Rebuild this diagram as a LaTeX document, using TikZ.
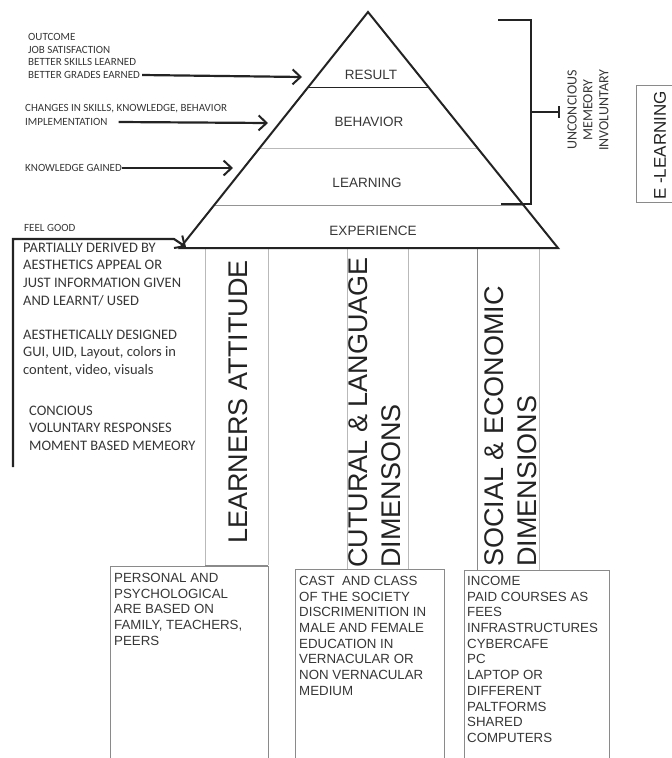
\documentclass[tikz,border=0pt]{standalone}
\usepackage{fontspec}
\setmainfont{Liberation Sans}
\newfontfamily\notefont{Carlito}
\usetikzlibrary{arrows.meta,calc}
\newdimen\pxsize
\setlength{\pxsize}{1pt}
\definecolor{inkdark}{HTML}{232323}
\definecolor{textgray}{HTML}{363636}
\definecolor{rulegray}{HTML}{B9B9B9}
\definecolor{boxgray}{HTML}{8A8A8A}
\tikzset{
  levelname/.style={inner sep=0pt,text=textgray,font=\fontsize{13.5}{16}\selectfont},
  feedtext/.style={anchor=west,inner sep=0pt,align=left,text=textgray,font=\notefont\fontsize{11}{12.4}\selectfont},
  feedarrow/.style={draw=inkdark,line width=2.2pt,-{Straight Barb[length=8pt,width=15pt,line width=2pt]}},
  boxnote/.style={anchor=north west,inner sep=0pt,align=left,text=textgray,font=\notefont\fontsize{14.5}{17.7}\selectfont},
  pillartext/.style={rotate=90,inner sep=0pt,text=inkdark,font=\fontsize{27}{33}\selectfont},
  factortext/.style={anchor=north west,inner sep=0pt,align=left,text=textgray,font=\fontsize{13.3}{15.7}\selectfont},
}

\begin{document}
\begin{tikzpicture}[x=\pxsize,y=-\pxsize]
\useasboundingbox (0,0) rectangle (672,758);
\clip (0,0) rectangle (672,758);
\coordinate (apex) at (368,12);
\coordinate (baseL) at (180,248);
\coordinate (baseR) at (558,248);

\foreach \pl/\pr/\pb/\pc in {205/268/565/rulegray,347/408/569/rulegray,477/539/570/boxgray}{
  \draw[rulegray] (\pr,248) -- (\pr,\pb);
  \draw[\pc] (\pl,248) -- (\pl,\pb);
}
\draw[boxgray] (205,565) -- (268,565);
\foreach \bl/\br/\bt in {110/268/566,295/444/569,464/609/570}{
  \draw[boxgray] (\bl,770) -- (\bl,\bt) -- (\br,\bt) -- (\br,770);
}

\foreach \lt/\lc/\lw in {0.318/inkdark/0.9pt,0.576/rulegray/0.8pt,0.818/rulegray!80!black/0.9pt}{
  \draw[\lc,line width=\lw] ($(apex)!\lt!(baseL)$) -- ($(apex)!\lt!(baseR)$);
}
\draw[inkdark,line width=2pt] (apex) -- (baseR) -- (baseL) -- cycle;

\node[levelname] (result) at (371,75) {RESULT};
\node[levelname] (behavior) at (369,122) {BEHAVIOR};
\node[levelname] (learning) at (367,183) {LEARNING};
\node[levelname] (experience) at (373,231) {EXPERIENCE};

\coordinate (resultin) at (302,77);
\coordinate (behaviorin) at (268,123);
\coordinate (learningin) at (233,168);
\coordinate (feelin) at (186,247);

\node[feedtext] (grades) at (28,75) {BETTER GRADES EARNED};
\node[feedtext,anchor=south west] (outcome) at ([yshift=5.5pt]grades.north west) {OUTCOME\\JOB SATISFACTION\\BETTER SKILLS LEARNED};
\node[feedtext] (implement) at (25,122) {IMPLEMENTATION};
\node[feedtext,anchor=south west] (changes) at ([yshift=5.5pt]implement.north west) {CHANGES IN SKILLS, KNOWLEDGE, BEHAVIOR};
\node[feedtext] (gained) at (25,168) {KNOWLEDGE GAINED};
\node[feedtext] (feelgood) at (24,228) {FEEL GOOD};

\draw[feedarrow] ([xshift=2pt]grades.east) -- (resultin);
\draw[feedarrow] ([xshift=11pt]implement.east) -- (behaviorin);
\draw[feedarrow] (gained.east) -- (learningin);
\draw[feedarrow] (13,467) -- (13,239) -- (174,239) -- (feelin);

\node[boxnote] (derived) at (23,242.5) {PARTIALLY DERIVED BY\\AESTHETICS APPEAL OR\\JUST INFORMATION GIVEN\\AND LEARNT/ USED};
\node[boxnote] (designed) at (23,329.5) {AESTHETICALLY DESIGNED\\GUI, UID, Layout, colors in\\content, video, visuals};
\node[boxnote] (concious) at (29,405.5) {CONCIOUS\\VOLUNTARY RESPONSES\\MOMENT BASED MEMEORY};

\draw[inkdark,line width=2.2pt] (498,20) -| (531,204) -- (501,204);
\draw[inkdark,line width=2pt,-{Bar[width=12pt,line width=1.6pt]}] (531,112) -- (560,112);
\node[rotate=90,inner sep=0pt,align=center,text=textgray,font=\notefont\fontsize{14}{15.8}\selectfont] (memory) at (588,110) {UNCONCIOUS\\MEMEORY\\INVOLUNTARY};

\draw[boxgray] (680,85) -- (636,85) -- (636,202) -- (680,202);
\node[rotate=90,anchor=west,inner sep=0pt,text=inkdark,font=\fontsize{17}{20}\selectfont] (elearning) at (660,200) {E -LEARNING};

\node[pillartext] (attitude) at (238,402) {LEARNERS ATTITUDE};
\node[pillartext,anchor=west,align=left] (culture) at (375,568) {CUTURAL \& LANGUAGE\\DIMENSONS};
\node[pillartext,anchor=west,align=left] (social) at (511,567) {SOCIAL \& ECONOMIC\\DIMENSIONS};

\node[factortext] (personal) at (114,573) {PERSONAL AND\\PSYCHOLOGICAL\\ARE BASED ON\\FAMILY, TEACHERS,\\PEERS};
\node[factortext] (caste) at (299,576) {CAST\ \ AND CLASS\\OF THE SOCIETY\\DISCRIMENITION IN\\MALE AND FEMALE\\EDUCATION IN\\VERNACULAR OR\\NON VERNACULAR\\MEDIUM};
\node[factortext] (income) at (467,576) {INCOME\\PAID COURSES AS\\FEES\\INFRASTRUCTURES\\CYBERCAFE\\PC\\LAPTOP OR\\DIFFERENT\\PALTFORMS\\SHARED\\COMPUTERS};
\end{tikzpicture}
\end{document}
